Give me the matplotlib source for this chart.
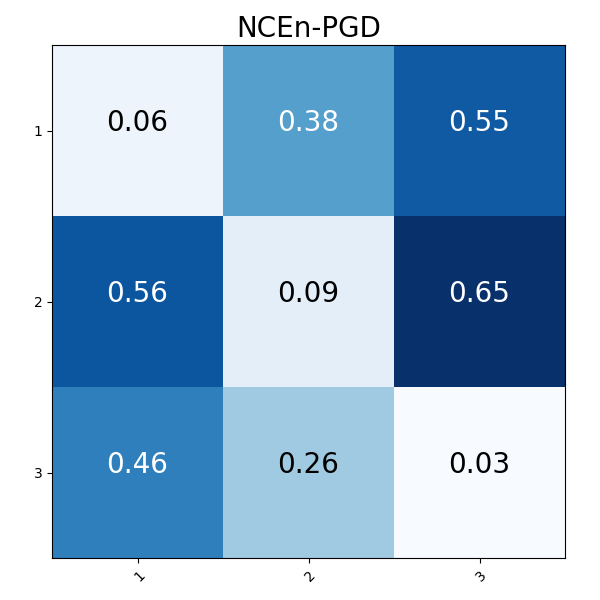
import numpy as np
import matplotlib
matplotlib.use("Agg")
import matplotlib.pyplot as plt

title = "NCEn-PGD"
row_labels = ["1", "2", "3"]
col_labels = ["1", "2", "3"]
values = np.array([
    [0.06, 0.38, 0.55],
    [0.56, 0.09, 0.65],
    [0.46, 0.26, 0.03],
])

fig = plt.figure(figsize=(6, 6), dpi=100)
ax = fig.add_axes([52/600, 1-558/600, (565-52)/600, (558-45)/600])
im = ax.imshow(values, cmap="Blues", aspect="auto")
ax.set_xticks(range(len(col_labels)))
ax.set_xticklabels(col_labels, rotation=45, ha="right", rotation_mode="anchor")
ax.set_yticks(range(len(row_labels)))
ax.set_yticklabels(row_labels)
thresh = values.max() / 2
for i in range(values.shape[0]):
    for j in range(values.shape[1]):
        v = values[i, j]
        ax.text(j, i, f"{v:.2f}", ha="center", va="baseline", fontsize=20,
                color="white" if v > thresh else "black")
ax.set_title(title, fontsize=20)
fig.savefig("out.png", dpi=100)
